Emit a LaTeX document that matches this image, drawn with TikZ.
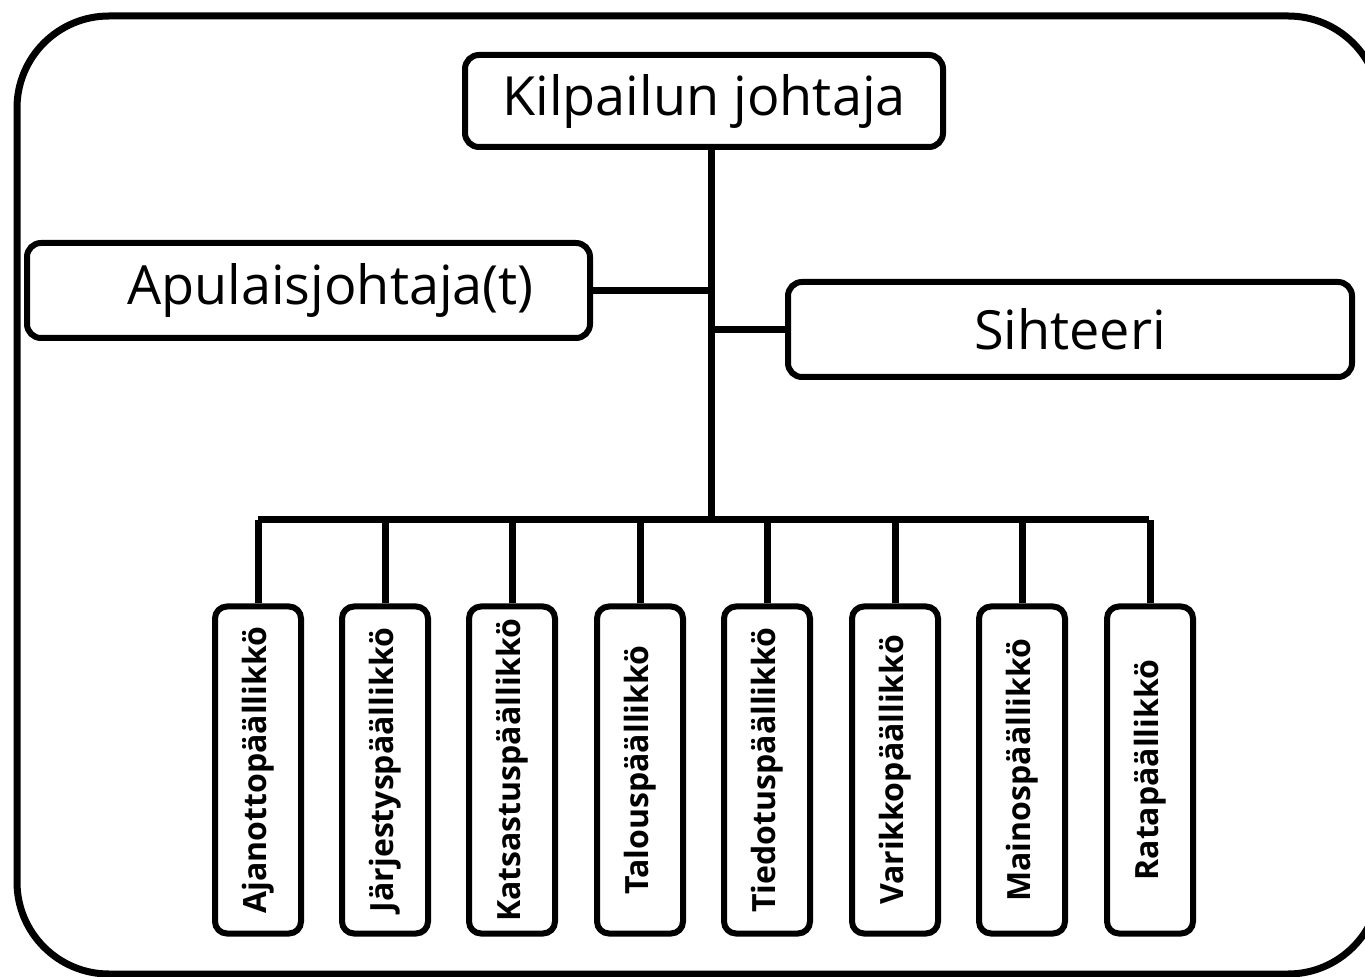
\documentclass[tikz,border=0pt]{standalone}
\usepackage{fontspec}
\setmainfont{Open Sans}
\begin{document}
\begin{tikzpicture}[x=0.5pt,y=-0.5pt,
  box/.style={draw, line width=3pt, rounded corners=7pt, inner sep=0pt, fill=white},
  headbox/.style={box, font=\fontsize{27}{30}\selectfont},
  unitbox/.style={box, rotate=90, rounded corners=6pt, minimum width=163.5pt, minimum height=43pt,
     font=\fontsize{16}{18}\selectfont\bfseries},
  link/.style={line width=3.5pt}]
\useasboundingbox (0,0) rectangle (1365,977);
\begin{scope}
\clip (0,0) rectangle (1365,977);
\draw[line width=3.5pt, rounded corners=46pt] (17,16) rectangle (1380,974);
\end{scope}
\coordinate (stem) at (711,520);
\coordinate (bl) at (258,520);
\coordinate (br) at (1149,520);
\node[headbox, minimum width=239pt, minimum height=46pt] (kj) at (704,101) {Kilpailun johtaja};
\node[headbox, minimum width=281.5pt, minimum height=47.5pt] (ap) at (308.5,290.5) {\hspace*{22pt}Apulaisjohtaja(t)};
\node[headbox, minimum width=282pt, minimum height=47.5pt] (si) at (1070,329.5) {Sihteeri};
\draw[link] (kj.south -| stem) -- (stem);
\draw[link] (ap.east) -- (ap.east -| stem);
\draw[link] (si.west) -- (si.west -| stem);
\draw[link] (bl) -- (br);
\node[unitbox] (u1) at (258,770) {Ajanottopäällikkö};
\node[unitbox] (u2) at (385,770) {Järjestyspäällikkö};
\node[unitbox] (u3) at (512,770) {Katsastuspäällikkö};
\node[unitbox] (u4) at (640,770) {Talouspäällikkö};
\node[unitbox] (u5) at (767,770) {Tiedotuspäällikkö};
\node[unitbox] (u6) at (895,770) {Varikkopäällikkö};
\node[unitbox] (u7) at (1022,770) {Mainospäällikkö};
\node[unitbox] (u8) at (1150,770) {Ratapäällikkö};
\foreach \i in {1,...,8} {\draw[link] (u\i.east) -- (u\i.east |- bl);}
\end{tikzpicture}
\end{document}
